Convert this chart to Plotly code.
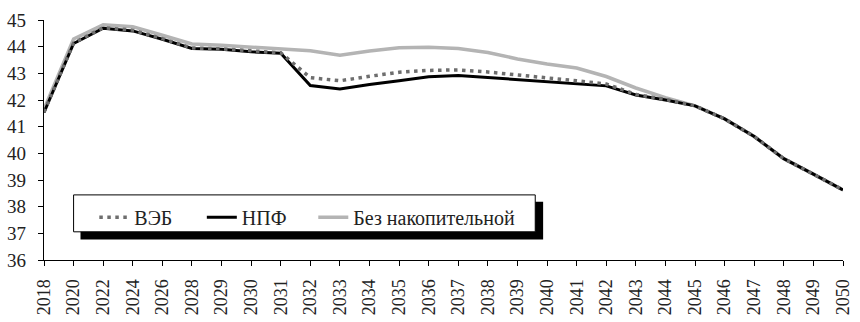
import plotly.graph_objects as go

# Categories (years) and series values
years = ["2018", "2020", "2022", "2024", "2026", "2028", "2029", "2030", "2031",
         "2032", "2033", "2034", "2035", "2036", "2037", "2038", "2039", "2040",
         "2041", "2042", "2043", "2044", "2045", "2046", "2047", "2048", "2049", "2050"]

veb = [41.55, 44.14, 44.71, 44.62, 44.30, 43.95, 43.92, 43.83, 43.77,
       42.84, 42.72, 42.89, 43.04, 43.11, 43.13, 43.05, 42.95, 42.82,
       42.72, 42.60, 42.21, 42.02, 41.78, 41.29, 40.63, 39.80, 39.22, 38.63]

npf = [41.53, 44.12, 44.69, 44.59, 44.28, 43.93, 43.90, 43.81, 43.75,
       42.54, 42.41, 42.58, 42.72, 42.87, 42.92, 42.84, 42.76, 42.67,
       42.60, 42.53, 42.19, 42.00, 41.78, 41.29, 40.63, 39.80, 39.22, 38.63]

bez = [41.65, 44.29, 44.82, 44.75, 44.43, 44.10, 44.05, 43.98, 43.92,
       43.85, 43.68, 43.84, 43.96, 43.98, 43.93, 43.78, 43.54, 43.35,
       43.20, 42.88, 42.45, 42.09, 41.78, 41.29, 40.63, 39.80, 39.22, 38.63]

y_ticks = [36, 37, 38, 39, 40, 41, 42, 43, 44, 45]

FONT = "'Liberation Serif', 'Times New Roman', serif"
TEXT = "#222222"
x_idx = list(range(len(years)))

W, H = 860, 322
L, R, T, B = 43, 7, 20, 55
pw, ph = W - L - R, H - T - B


def px_x(x):
    return (x - L) / pw


def px_y(y):
    return (H - B - y) / ph


fig = go.Figure()
fig.add_trace(go.Scatter(
    x=x_idx, y=bez, mode="lines", name="Без накопительной", legend="legend3",
    line=dict(color="#b4b4b4", width=3.5)))
fig.add_trace(go.Scatter(
    x=x_idx, y=npf, mode="lines", name="НПФ", legend="legend2",
    line=dict(color="#000000", width=3)))
fig.add_trace(go.Scatter(
    x=x_idx, y=veb, mode="lines", name="ВЭБ", legend="legend",
    line=dict(color="#6e6e6e", width=3.5, dash="3.5px,4.5px")))

# Legend frame with a drop shadow
fig.add_shape(type="rect", xref="paper", yref="paper",
              x0=px_x(80), x1=px_x(549), y0=px_y(246), y1=px_y(207),
              fillcolor="black", line=dict(width=0), layer="above")
fig.add_shape(type="rect", xref="paper", yref="paper",
              x0=px_x(73), x1=px_x(541), y0=px_y(238), y1=px_y(200),
              fillcolor="white", line=dict(color="black", width=1), layer="above")


def legend_at(x_px):
    return dict(orientation="h", x=px_x(x_px), y=px_y(223), xanchor="left", yanchor="middle",
                bgcolor="rgba(0,0,0,0)", borderwidth=0, itemwidth=30,
                font=dict(family=FONT, size=20, color=TEXT))


fig.update_layout(
    width=W, height=H,
    margin=dict(l=L, r=R, t=T, b=B),
    paper_bgcolor="white", plot_bgcolor="white",
    font=dict(family=FONT, color=TEXT, size=17),
    showlegend=True,
    legend=legend_at(94),
    legend2=legend_at(203),
    legend3=legend_at(316),
    xaxis=dict(range=[0, len(years) - 1], tickmode="array", tickvals=x_idx, ticktext=years,
               tickangle=-90, showgrid=False, zeroline=False,
               showline=True, linecolor="black", linewidth=1.3,
               ticks="outside", ticklen=5, tickcolor="black", tickwidth=1.3,
               ticklabelstandoff=6, ticklabeloverflow="allow",
               tickfont=dict(family=FONT, size=18, color=TEXT)),
    yaxis=dict(range=[36, 45], tickmode="array", tickvals=y_ticks,
               showgrid=False, zeroline=False,
               showline=True, linecolor="black", linewidth=1.3,
               ticks="outside", ticklen=5, tickcolor="black", tickwidth=1.3,
               ticklabelstandoff=8,
               tickfont=dict(family=FONT, size=19, color=TEXT)),
)

fig.write_html("out.html")
